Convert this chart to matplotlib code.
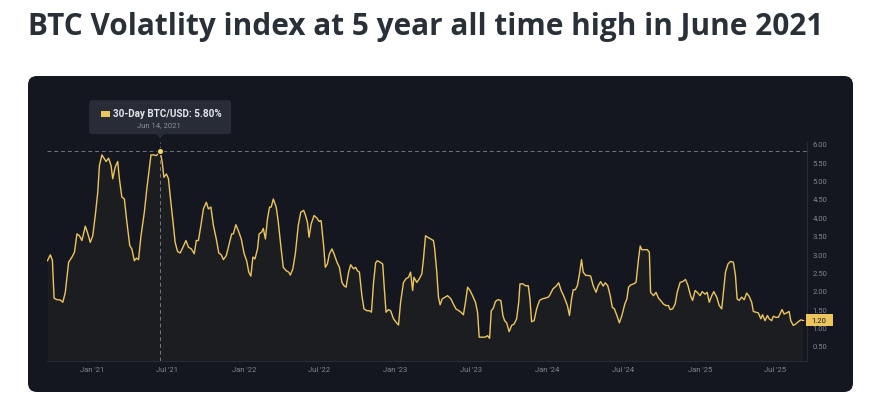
# BTC 30-day volatility chart, dark card style

import numpy as np
import pandas as pd
import matplotlib
matplotlib.use('Agg')
import matplotlib.pyplot as plt
import matplotlib.dates as mdates
from matplotlib.patches import FancyBboxPatch, Rectangle, Polygon

title = 'BTC Volatlity index at 5 year all time high in June 2021'
series_name = '30-Day BTC/USD'

# days counted from 2021-01-01, values in %
base = pd.Timestamp('2021-01-01')
days = [-107, -100, -95, -91, -84, -76, -70, -64, -56, -48, -42, -36, -30, -24, -16, -11, -4, 2, 8, 14,
        18, 24, 30, 34, 40, 46, 50, 56, 62, 66, 72, 78, 84, 91, 96, 102, 107, 112, 118, 126,
        132, 139, 142, 148, 155, 164, 169, 173, 179, 184, 188,
        195, 200, 206, 212, 219, 226, 232, 239, 246, 251, 256, 262, 268, 275, 280, 286, 292, 299, 305, 311,
        316, 323, 329, 336, 340, 346, 352, 359, 366, 372, 377, 382, 387, 392, 398, 402, 408, 412, 417, 422,
        427, 431, 436, 443, 448, 454, 460, 467, 473, 477, 483, 489, 496, 502, 509,
        513, 518, 522, 527, 534, 541, 546, 551, 557, 561, 566, 571, 577, 582, 589, 595, 601, 606, 611, 617,
        622, 629, 634, 638, 643, 649, 654, 661, 667, 672, 677, 682, 686, 693, 699, 703, 707, 713, 718, 725,
        731, 737, 742, 749, 755, 761, 766, 771, 774, 781, 787, 793, 797, 802, 807, 815, 821,
        824, 829, 833, 837, 842, 849, 855, 863, 869, 875, 882, 887, 893, 898, 903, 909, 915, 922, 927, 931,
        938, 945, 951, 956, 960, 965, 970, 976, 983, 988, 992, 997, 1003, 1009, 1015, 1021, 1026, 1029, 1036, 1042,
        1049, 1053, 1057, 1063, 1069, 1076, 1082, 1089, 1097, 1101, 1108, 1113, 1117, 1122, 1128, 1133, 1137,
        1143, 1148, 1153, 1157, 1162, 1167, 1172, 1177, 1181, 1187, 1193, 1199, 1205, 1212, 1217, 1223, 1229, 1234, 1240, 1246,
        1251, 1256, 1262, 1268, 1274, 1281, 1286, 1290, 1295, 1302, 1308, 1314, 1318, 1322, 1329, 1335, 1340, 1343, 1350, 1356,
        1362, 1367, 1374, 1380, 1386, 1390, 1396, 1402, 1407, 1414, 1420, 1427, 1433, 1439,
        1444, 1450, 1455, 1462, 1467, 1474, 1479, 1484, 1490, 1495, 1502, 1508, 1514, 1518, 1523, 1529, 1535, 1542, 1547, 1551,
        1556, 1562, 1568, 1574, 1580, 1586, 1590, 1596, 1602, 1608, 1612, 1618, 1624, 1628, 1634, 1638, 1644, 1650, 1656, 1659,
        1664, 1670, 1676, 1680, 1686, 1692, 1698, 1704, 1708]
vol = [2.82, 2.98, 2.83, 1.80, 1.76, 1.75, 1.69, 1.96, 2.78, 2.92, 3.05, 3.55, 3.50, 3.37, 3.76, 3.60, 3.32, 3.50, 4.05, 4.68,
       5.41, 5.70, 5.59, 5.52, 5.61, 5.41, 5.05, 5.37, 5.52, 5.05, 4.55, 4.50, 3.87, 3.23, 3.14, 2.82, 2.89, 2.85, 3.50, 4.14,
       4.78, 5.41, 5.70, 5.70, 5.68, 5.80, 5.50, 5.09, 5.18, 5.05, 4.60,
       3.87, 3.32, 3.07, 3.03, 3.19, 3.37, 3.19, 3.14, 3.01, 3.37, 3.37, 3.78, 4.23, 4.41, 4.23, 4.28, 3.78, 3.41, 3.03, 2.98,
       2.85, 2.96, 3.23, 3.55, 3.55, 3.80, 3.64, 3.41, 3.01, 2.82, 2.51, 2.40, 2.92, 2.87, 3.14, 3.55, 3.60, 3.70, 3.41, 3.96,
       4.28, 4.28, 4.50, 4.28, 3.87, 3.23, 2.64, 2.55, 2.51, 2.43, 2.60, 3.01, 3.78, 4.14, 4.19,
       4.07, 3.87, 3.46, 3.82, 4.05, 3.98, 3.89, 3.91, 3.23, 2.64, 2.73, 3.01, 3.14, 3.01, 2.78, 2.64, 2.23, 2.14, 2.10, 2.51,
       2.71, 2.60, 2.64, 2.55, 2.51, 1.87, 1.51, 1.46, 1.46, 1.42, 2.23, 2.76, 2.82, 2.78, 2.73, 2.05, 1.42, 1.49, 1.46, 1.24,
       1.15, 1.07, 1.69, 2.23, 2.33, 2.37, 2.51, 2.01, 2.37, 2.23, 2.33, 2.46, 2.87, 3.50, 3.46, 3.41, 3.37,
       3.14, 2.51, 1.83, 1.62, 1.78, 1.83, 1.87, 1.78, 1.64, 1.51, 1.46, 1.42, 1.35, 1.69, 2.10, 2.01, 1.87, 1.69, 1.42, 0.74,
       0.74, 0.74, 0.78, 0.71, 1.46, 1.53, 1.71, 1.76, 1.74, 1.33, 1.19, 1.13, 0.89, 1.06, 1.10, 1.24, 1.69, 2.19, 2.19, 2.14,
       2.14, 1.78, 1.16, 1.19, 1.51, 1.74, 1.78, 1.80, 1.83, 1.89, 2.05, 2.10, 2.14, 2.22, 2.01, 1.89, 1.78,
       1.60, 1.33, 1.78, 2.03, 2.03, 2.14, 2.46, 2.85, 2.51, 2.42, 2.42, 2.40, 2.14, 1.96, 2.14, 2.25, 2.13, 2.22, 2.14, 1.87,
       1.55, 1.51, 1.33, 1.13, 1.33, 1.64, 1.78, 2.10, 2.16, 2.19, 2.23, 2.87, 3.22, 3.12, 3.12, 3.12, 3.05, 1.96, 1.87, 1.96,
       1.80, 1.74, 1.64, 1.60, 1.60, 1.49, 1.51, 1.64, 1.96, 2.23, 2.25, 2.31, 2.14, 1.87,
       1.74, 2.01, 1.96, 1.87, 1.98, 1.91, 1.96, 1.69, 1.87, 1.98, 1.83, 1.60, 1.51, 1.96, 2.51, 2.73, 2.80, 2.78, 2.42, 1.78,
       1.74, 1.83, 1.76, 1.94, 1.85, 1.69, 1.44, 1.42, 1.40, 1.24, 1.35, 1.19, 1.33, 1.24, 1.19, 1.31, 1.28, 1.28, 1.42, 1.49,
       1.37, 1.40, 1.44, 1.19, 1.06, 1.10, 1.16, 1.21, 1.20]

xtick_dates = ['2021-01-01', '2021-07-01', '2022-01-01', '2022-07-01', '2023-01-01',
               '2023-07-01', '2024-01-01', '2024-07-01', '2025-01-01', '2025-07-01']
xtick_labels = ["Jan '21", "Jul '21", "Jan '22", "Jul '22", "Jan '23",
                "Jul '23", "Jan '24", "Jul '24", "Jan '25", "Jul '25"]
yticks = [0.5, 1.0, 1.5, 2.0, 2.5, 3.0, 3.5, 4.0, 4.5, 5.0, 5.5, 6.0]

dates = base + pd.to_timedelta(days, unit='D')

gold = '#ecc55c'
card = '#14171f'
grey = '#80858f'
W, H = 876, 414

fig = plt.figure(figsize=(W / 100, H / 100), dpi=100)
fig.patch.set_facecolor('white')

# dark card behind the chart
fig.add_artist(FancyBboxPatch((28 / 100, (H - 393) / 100), (853 - 28) / 100, (393 - 77) / 100,
                              boxstyle='round,pad=0,rounding_size=0.09', transform=fig.dpi_scale_trans,
                              facecolor=card, edgecolor='none', zorder=0))

fig.text(28 / W, 1 - 27 / H, title, fontsize=21.4, fontweight='bold', color='#2a3038',
         ha='left', va='center', family='Open Sans')

ax = fig.add_axes([47 / W, (H - 361.7) / H, (807 - 47) / W, (361.7 - 143) / H])
ax.set_facecolor('none')
ax.plot(dates, vol, color=gold, lw=1.0, zorder=3)
ax.fill_between(dates, vol, 0, color=gold, alpha=0.04, lw=0, zorder=2)

ax.set_ylim(0.10, 6.05)
ax.set_xlim(base - pd.Timedelta(days=108), base + pd.Timedelta(days=1719))

ax.yaxis.tick_right()
ax.set_yticks(yticks)
ax.set_yticklabels([f'{v:.2f}' for v in yticks], family='Roboto')
ax.set_xticks(pd.to_datetime(xtick_dates))
ax.set_xticklabels(xtick_labels, family='Roboto')
ax.tick_params(axis='y', length=0, pad=4, labelsize=5.5, labelcolor=grey)
ax.tick_params(axis='x', length=0, pad=3.5, labelsize=5.5, labelcolor=grey)
for s in ['left', 'top']:
    ax.spines[s].set_visible(False)
for s in ['bottom', 'right']:
    ax.spines[s].set_color('#272b35')
    ax.spines[s].set_linewidth(0.8)

# crosshair at the all time high
i = int(np.argmax(vol))
peak_date, peak_val = dates[i], vol[i]
ax.axhline(peak_val, color='#6f7480', ls=(0, (4, 3)), lw=0.7, zorder=1)
ax.axvline(peak_date, color='#6f7480', ls=(0, (4, 3)), lw=0.7, zorder=1, clip_on=False)
ax.plot(peak_date, peak_val, 'o', ms=4.5, mfc='#f5d26a', mec=card, mew=0.8, zorder=5)

# tooltip box above the peak
px, py = ax.transData.transform((mdates.date2num(peak_date), peak_val))
cx = px / 100
bot = (py + 17) / 100
fig.add_artist(FancyBboxPatch((cx - 0.71, bot), 1.42, 0.34, boxstyle='round,pad=0,rounding_size=0.03',
                              transform=fig.dpi_scale_trans, facecolor='#272c37', edgecolor='none', zorder=6))
fig.add_artist(Polygon([(cx - 0.04, bot), (cx + 0.04, bot), (cx, bot - 0.04)], closed=True,
                       transform=fig.dpi_scale_trans, facecolor='#272c37', edgecolor='none', zorder=6))
fig.add_artist(Rectangle((cx - 0.59, bot + 0.17), 0.085, 0.065, transform=fig.dpi_scale_trans,
                         facecolor=gold, edgecolor='none', zorder=7))
fig.text((px - 47) / W, (py + 17 + 20.7) / H, f'{series_name}: {peak_val:.2f}%', fontsize=7.1,
         fontweight='bold', color='#e4e6ea', ha='left', va='center', family='Roboto', zorder=7)
fig.text((px - 1) / W, (py + 17 + 10.5) / H, f'{peak_date.strftime("%b")} {peak_date.day}, {peak_date.year}',
         fontsize=5.5, color='#8b909a', ha='center', va='center', family='Roboto', zorder=7)

# last value tag on the right axis
ax.hlines(vol[-1], dates[-1], ax.get_xlim()[1], color=gold, lw=0.7, ls=(0, (2, 2)), zorder=3)
yt = ax.get_yaxis_transform()
ax.add_patch(Rectangle((1.0 - 1 / 760, vol[-1] - 0.159), 0.0351, 0.318, transform=yt,
                       facecolor=gold, edgecolor='none', clip_on=False, zorder=6))
ax.text(1.0 + 12.3 / 760, vol[-1], f'{vol[-1]:.2f}', transform=yt, fontsize=5.5, color='#1b1c20',
        ha='center', va='center', family='Roboto', zorder=7, clip_on=False)

fig.savefig('out.png', dpi=100)
